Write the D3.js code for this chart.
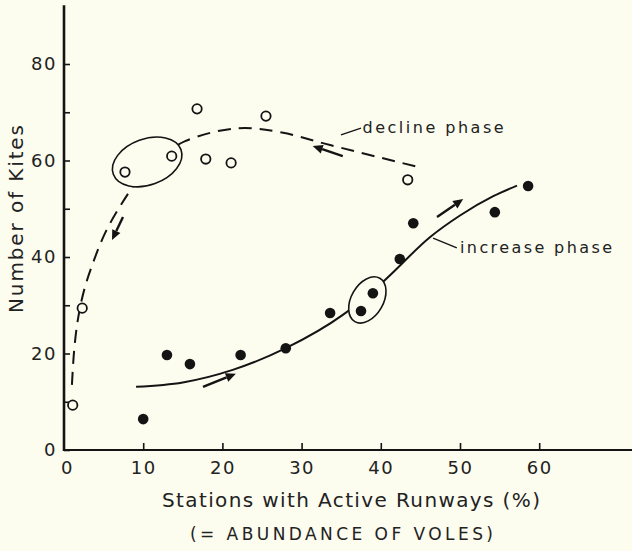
<!DOCTYPE html>
<html><head><meta charset="utf-8">
<script src="https://cdn.jsdelivr.net/npm/d3@7"></script>
<style>html,body{margin:0;padding:0;background:#fcfcef;} svg{display:block;}</style>
</head><body>
<script>
// ---- data ----
const openX   = [1.1, 2.3, 7.7, 13.6, 16.8, 17.9, 21.1, 25.5, 43.4];
const openY   = [9.3, 29.4, 57.6, 60.9, 70.7, 60.3, 59.5, 69.2, 56.0];
const filledX = [10.0, 13.0, 15.9, 22.3, 28.0, 33.6, 37.5, 39.0, 42.4, 44.1, 54.4, 58.6];
const filledY = [6.4, 19.7, 17.8, 19.7, 21.1, 28.4, 28.8, 32.5, 39.6, 47.0, 49.3, 54.7];
const declineCurveX = [1.0, 1.3, 1.8, 2.6, 3.8, 5.2, 7.0, 9.0, 11.5, 15.3, 22.0, 27.5, 33.6, 44.6];
const declineCurveY = [13.5, 21.0, 27.5, 33.5, 39.4, 45.0, 50.3, 55.2, 59.8, 64.0, 66.7, 65.8, 63.2, 58.7];
const increaseCurveX = [9.1, 15.0, 21.3, 28.0, 35.2, 40.5, 46.2, 50.0, 54.2, 57.2];
const increaseCurveY = [13.1, 14.0, 16.6, 21.1, 28.0, 35.2, 44.1, 48.6, 52.6, 54.8];
const xTicks = [0, 10, 20, 30, 40, 50, 60];
const yTicks = [0, 10, 20, 30, 40, 50, 60, 70, 80];
const yLabelStep = 20;
// annotations (data units)
const ellipseCX = [10.5, 38.3];
const ellipseCY = [59.7, 31.1];
const arrowX1 = [7.45, 35.2, 17.55, 47.1];
const arrowY1 = [48.3, 60.9, 13.1, 48.3];
const arrowX2 = [6.06, 31.4, 21.7, 50.4];
const arrowY2 = [43.5, 63.0, 15.8, 52.0];
const labelText = ["decline phase", "increase phase"];
const labelX = [37.7, 50.0];
const labelY = [65.6, 40.8];
const leaderX1 = [34.97, 46.6], leaderY1 = [65.3, 43.9];
const leaderX2 = [37.5, 49.6],  leaderY2 = [66.7, 41.9];
const xTitle = "Stations with Active Runways (%)";
const xSubTitle = "(= ABUNDANCE OF VOLES)";
const yTitle = "Number of Kites";

// ---- layout / style ----
const W = 632, H = 551, BG = "#fcfcef", INK = "#141414";
const FONT = "'DejaVu Sans', sans-serif";
const x = d3.scaleLinear().domain([0, 60]).range([64, 539.2]);
const y = d3.scaleLinear().domain([0, 80]).range([450, 64]);

const svg = d3.select("body").append("svg").attr("width", W).attr("height", H);
svg.append("rect").attr("width", W).attr("height", H).attr("fill", BG);

// axes
const gy = svg.append("g").attr("transform", `translate(${x(0)},0)`)
  .call(d3.axisLeft(y).tickValues(yTicks).tickSize(-6).tickPadding(7)
        .tickFormat(d => d % yLabelStep === 0 ? d : ""));
gy.select(".domain").remove();
gy.selectAll(".tick line").attr("stroke", INK).attr("stroke-width", 1.6);
gy.selectAll(".tick text").attr("font-family", FONT).attr("font-size", 18)
  .attr("letter-spacing", 1.5).attr("fill", "#222");

const gx = svg.append("g").attr("transform", `translate(0,${y(0)})`)
  .call(d3.axisBottom(x).tickValues(xTicks).tickSize(-7).tickPadding(11)
        .tickFormat(d => d));
gx.select(".domain").remove();
gx.selectAll(".tick line").attr("stroke", INK).attr("stroke-width", 1.6)
  .attr("opacity", d => d === 0 ? 0 : 1);
gx.selectAll(".tick text").attr("font-family", FONT).attr("font-size", 18)
  .attr("letter-spacing", 1.5).attr("fill", "#222")
  .attr("dx", d => d === 0 ? 3 : 0);

svg.append("line").attr("x1", x(0)).attr("x2", x(0))
  .attr("y1", y(0) + 1).attr("y2", y(92.2))
  .attr("stroke", INK).attr("stroke-width", 2.6);
svg.append("line").attr("x1", x(0) - 1).attr("x2", W)
  .attr("y1", y(0)).attr("y2", y(0))
  .attr("stroke", INK).attr("stroke-width", 2.2);

// titles
svg.append("text").attr("x", 351).attr("y", 507).attr("text-anchor", "middle")
  .attr("font-family", FONT).attr("font-size", 20).attr("fill", "#222")
  .attr("textLength", 378).attr("lengthAdjust", "spacing").text(xTitle);
svg.append("text").attr("x", 341.5).attr("y", 540).attr("text-anchor", "middle")
  .attr("font-family", FONT).attr("font-size", 17).attr("fill", "#222")
  .attr("textLength", 303).attr("lengthAdjust", "spacing").text(xSubTitle);
svg.append("text").attr("transform", "translate(23,219) rotate(-90)")
  .attr("text-anchor", "middle").attr("font-family", FONT).attr("font-size", 20)
  .attr("fill", "#222").attr("textLength", 188).attr("lengthAdjust", "spacing").text(yTitle);

// curves
const declineLine = d3.line().x(d => x(d[0])).y(d => y(d[1])).curve(d3.curveCatmullRom.alpha(0.5));
const increaseLine = d3.line().x(d => x(d[0])).y(d => y(d[1])).curve(d3.curveMonotoneX);
svg.append("path").datum(declineCurveX.map((v, i) => [v, declineCurveY[i]]))
  .attr("d", declineLine).attr("fill", "none").attr("stroke", INK).attr("stroke-width", 2)
  .attr("stroke-dasharray", "13,8");
svg.append("path").datum(increaseCurveX.map((v, i) => [v, increaseCurveY[i]]))
  .attr("d", increaseLine).attr("fill", "none").attr("stroke", INK).attr("stroke-width", 2);

// ellipses (masking curves)
const ellR = [[36, 23, -20], [25, 16, -60]];
ellipseCX.forEach((cx, i) => {
  svg.append("ellipse")
    .attr("transform", `translate(${x(cx)},${y(ellipseCY[i])}) rotate(${ellR[i][2]})`)
    .attr("rx", ellR[i][0]).attr("ry", ellR[i][1])
    .attr("fill", BG).attr("stroke", INK).attr("stroke-width", 1.6);
});

// leaders and labels
leaderX1.forEach((v, i) => {
  svg.append("line").attr("x1", x(v)).attr("y1", y(leaderY1[i]))
    .attr("x2", x(leaderX2[i])).attr("y2", y(leaderY2[i]))
    .attr("stroke", INK).attr("stroke-width", 1.4);
});
const labelW = [141, 152];
labelText.forEach((t, i) => {
  svg.append("text").attr("x", x(labelX[i])).attr("y", y(labelY[i]))
    .attr("font-family", FONT).attr("font-size", 16).attr("fill", "#222")
    .attr("textLength", labelW[i]).attr("lengthAdjust", "spacing").text(t);
});

// arrows
arrowX1.forEach((v, i) => {
  const p1 = [x(v), y(arrowY1[i])], p2 = [x(arrowX2[i]), y(arrowY2[i])];
  const a = Math.atan2(p2[1] - p1[1], p2[0] - p1[0]);
  const L = 10, Wd = 4.5;
  const b = [p2[0] - L * Math.cos(a), p2[1] - L * Math.sin(a)];
  svg.append("line").attr("x1", p1[0]).attr("y1", p1[1]).attr("x2", b[0]).attr("y2", b[1])
    .attr("stroke", INK).attr("stroke-width", 2.4);
  const pts = [p2,
    [b[0] + Wd * Math.sin(a), b[1] - Wd * Math.cos(a)],
    [b[0] - Wd * Math.sin(a), b[1] + Wd * Math.cos(a)]];
  svg.append("polygon").attr("points", pts.map(p => p.join(",")).join(" ")).attr("fill", INK);
});

// points
svg.append("g").selectAll("circle").data(openX).join("circle")
  .attr("cx", d => x(d)).attr("cy", (d, i) => y(openY[i])).attr("r", 4.7)
  .attr("fill", BG).attr("stroke", INK).attr("stroke-width", 1.8);
svg.append("g").selectAll("circle").data(filledX).join("circle")
  .attr("cx", d => x(d)).attr("cy", (d, i) => y(filledY[i])).attr("r", 5.3)
  .attr("fill", INK);
</script>
</body></html>
